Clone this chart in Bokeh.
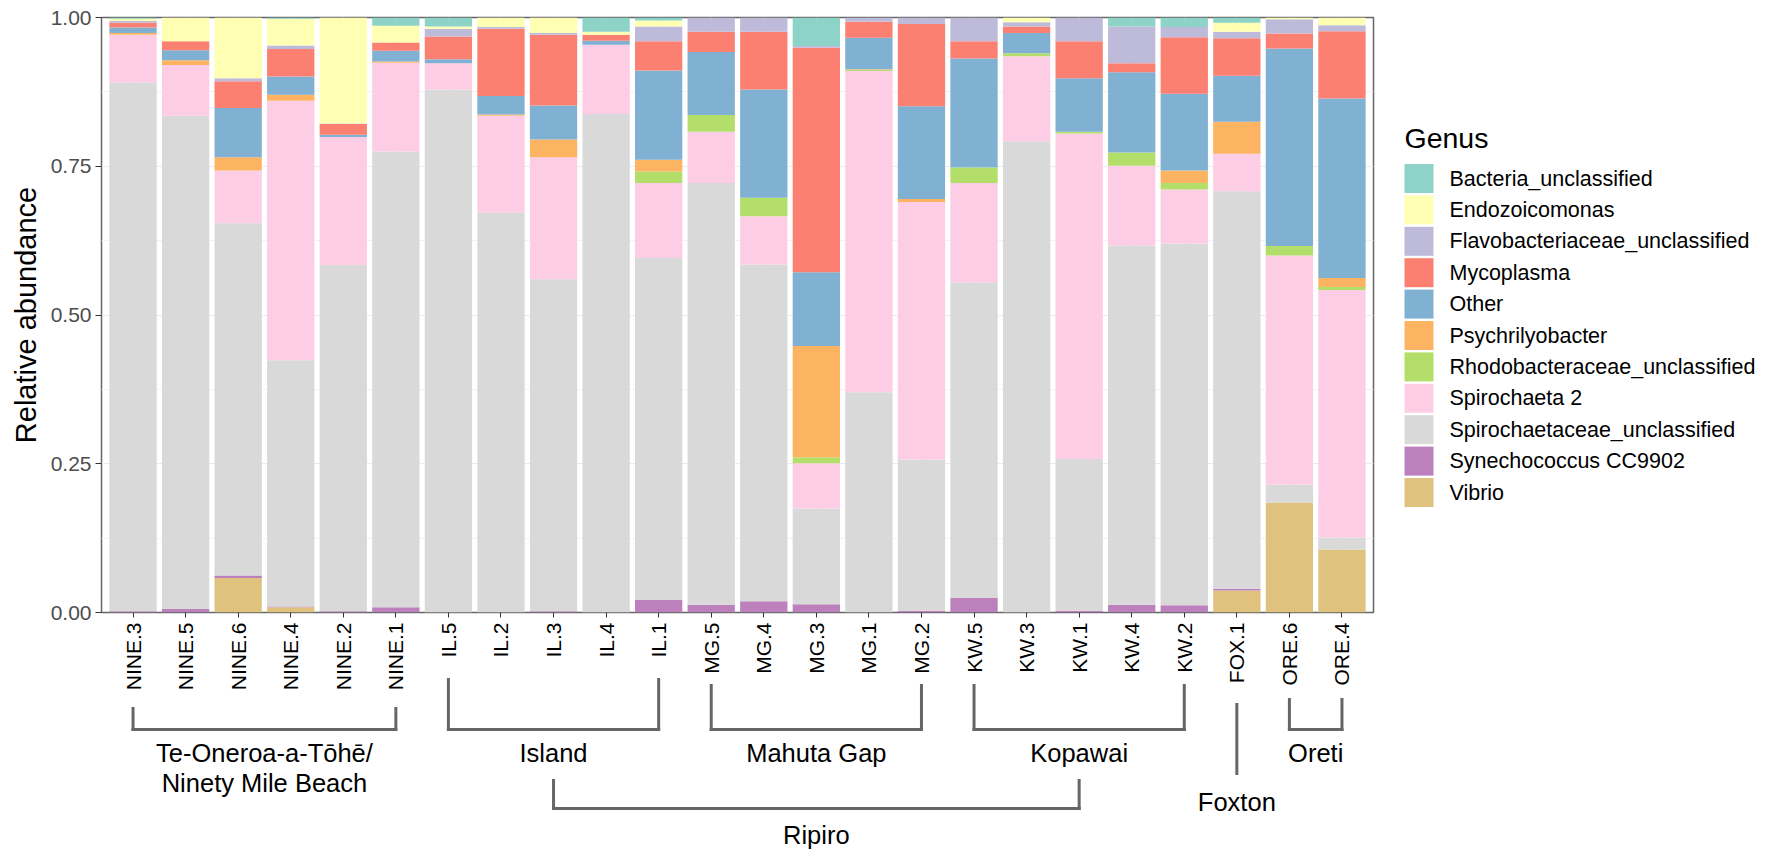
import numpy as np
from bokeh.plotting import figure
from bokeh.models import Range1d, FixedTicker, NumeralTickFormatter, ColumnDataSource
from bokeh.core.properties import value
from bokeh.embed import file_html
from bokeh.resources import INLINE

# ---------------- data ----------------
samples = ["NINE.3", "NINE.5", "NINE.6", "NINE.4", "NINE.2", "NINE.1",
           "IL.5", "IL.2", "IL.3", "IL.4", "IL.1",
           "MG.5", "MG.4", "MG.3", "MG.1", "MG.2",
           "KW.5", "KW.3", "KW.1", "KW.4", "KW.2",
           "FOX.1", "ORE.6", "ORE.4"]

# legend order (top of stack first)
genera = ["Bacteria_unclassified", "Endozoicomonas", "Flavobacteriaceae_unclassified",
          "Mycoplasma", "Other", "Psychrilyobacter", "Rhodobacteraceae_unclassified",
          "Spirochaeta 2", "Spirochaetaceae_unclassified", "Synechococcus CC9902", "Vibrio"]

bacteria_unclassified = [.002, 0, 0, .002, 0, .014, .015, 0, 0, .024, .005, 0, 0, .048, 0, 0, 0, 0, 0, .015, .016, .009, 0, 0]
endozoicomonas = [.004, .040, .102, .045, .178, .028, .004, .016, .026, .005, .010, 0, 0, 0, 0, 0, 0, .008, 0, 0, 0, .015, .003, .013]
flavobacteriaceae_unclassified = [.003, 0, .005, .006, .001, 0, .013, .003, .003, 0, .025, .024, .024, .003, .007, .011, .040, .007, .040, .062, .017, .011, .024, .010]
mycoplasma = [.008, .015, .045, .046, .018, .014, .038, .113, .119, .010, .049, .034, .097, .377, .027, .138, .029, .011, .062, .015, .095, .063, .025, .113]
other = [.009, .017, .083, .031, .004, .018, .007, .031, .057, .007, .150, .106, .182, .124, .053, .156, .183, .034, .090, .135, .129, .077, .332, .302]
psychrilyobacter = [.003, .008, .022, .010, 0, .002, 0, .002, .030, 0, .020, 0, 0, .187, .001, .005, 0, 0, 0, 0, .021, .054, 0, .015]
rhodobacteraceae_unclassified = [0, 0, 0, 0, 0, 0, 0, 0, 0, 0, .019, .028, .031, .010, .002, 0, .026, .005, .003, .022, .011, 0, .016, .005]
spirochaeta_2 = [.080, .085, .089, .436, .215, .149, .044, .163, .205, .116, .126, .086, .081, .076, .540, .433, .167, .143, .547, .134, .091, .063, .385, .416]
spirochaetaceae_unclassified = [.889, .829, .592, .414, .582, .766, .879, .672, .558, .838, .575, .709, .566, .161, .370, .254, .530, .792, .255, .604, .608, .668, .030, .020]
synechococcus_cc9902 = [.002, .006, .004, .001, .002, .009, 0, 0, .002, 0, .021, .013, .019, .014, 0, .003, .025, 0, .003, .013, .012, .003, 0, 0]
vibrio = [0, 0, .058, .009, 0, 0, 0, 0, 0, 0, 0, 0, 0, 0, 0, 0, 0, 0, 0, 0, 0, .037, .185, .106]

colors = ["#8DD3C7", "#FFFFB3", "#BEBADA", "#FB8072", "#80B1D3", "#FDB462",
          "#B3DE69", "#FCCDE5", "#D9D9D9", "#BC80BD", "#DFC27D"]

y_ticks = [0, 0.25, 0.5, 0.75, 1.0]
legend_title = "Genus"

# site groups (bracket labels)
group_labels = [["Te-Oneroa-a-Tōhē/", "Ninety Mile Beach"], ["Island"], ["Mahuta Gap"],
                ["Kopawai"], ["Foxton"], ["Oreti"]]
group_members = [["NINE.3", "NINE.5", "NINE.6", "NINE.4", "NINE.2", "NINE.1"],
                 ["IL.5", "IL.2", "IL.3", "IL.4", "IL.1"],
                 ["MG.5", "MG.4", "MG.3", "MG.1", "MG.2"],
                 ["KW.5", "KW.3", "KW.1", "KW.4", "KW.2"],
                 ["FOX.1"],
                 ["ORE.6", "ORE.4"]]
super_label = "Ripiro"
super_members = ["Island", "Mahuta Gap", "Kopawai"]

# ---------------- layout constants (pixels) ----------------
W, H = 1768, 850
FRAME_L, FRAME_T, FRAME_W, FRAME_H = 101, 17, 1272, 595
X_LO, X_HI = -0.6, len(samples) - 0.4
PX_PER_X = FRAME_W / (X_HI - X_LO)
FONT = value("Liberation Sans")
bracket_top_px = [96, 67, 73, 73, 92, 87]   # px below panel bottom
BRACKET_H_PX = 117
FOX_END_PX = 161
LABEL_PX = 140
LINE2_PX = 170
FOX_LABEL_PX = 189
SUP_TOP_PX, SUP_H_PX, SUP_LABEL_PX = 168, 196, 222
# legend (page pixels)
LEG_SW_X, LEG_SW = 1404, 29
LEG_TXT_X = 1449
LEG_TITLE_Y = 137
LEG_ROW0_Y, LEG_PITCH = 178, 31.4


def ypx(d):
    """pixels below the panel bottom -> data y"""
    return -d / FRAME_H


def dx(px):
    return (px - FRAME_L) / PX_PER_X + X_LO


def dy(py):
    return 1 - (py - FRAME_T) / FRAME_H


# ---------------- figure ----------------
keys = ["vibrio", "synechococcus_cc9902", "spirochaetaceae_unclassified", "spirochaeta_2",
        "rhodobacteraceae_unclassified", "psychrilyobacter", "other", "mycoplasma",
        "flavobacteriaceae_unclassified", "endozoicomonas", "bacteria_unclassified"]
series = [vibrio, synechococcus_cc9902, spirochaetaceae_unclassified, spirochaeta_2,
          rhodobacteraceae_unclassified, psychrilyobacter, other, mycoplasma,
          flavobacteriaceae_unclassified, endozoicomonas, bacteria_unclassified]
idx = np.arange(len(samples))
data = {"x": idx}
for k, s in zip(keys, series):
    data[k] = s
source = ColumnDataSource(data)

p = figure(width=W, height=H,
           x_range=Range1d(X_LO, X_HI), y_range=Range1d(0, 1),
           output_backend="svg", toolbar_location=None,
           min_border_left=FRAME_L, min_border_right=W - FRAME_L - FRAME_W,
           min_border_top=FRAME_T, min_border_bottom=H - FRAME_T - FRAME_H)
p.background_fill_color = "white"
p.border_fill_color = "white"
p.outline_line_color = "#666666"
p.outline_line_width = 1.5

stack_colors = list(reversed(colors))  # bottom -> top
renderers = p.vbar_stack(keys, x="x", width=0.9, source=source,
                         fill_color=stack_colors, line_color=None)

# axes
p.xaxis.ticker = FixedTicker(ticks=list(idx))
p.xaxis.major_label_overrides = {int(i): s for i, s in zip(idx, samples)}
p.xaxis.major_label_orientation = np.pi / 2
p.xaxis.major_label_text_font = "Liberation Sans"
p.xaxis.major_label_text_font_size = "21px"
p.xaxis.major_label_text_color = "black"
p.xaxis.major_tick_out = 5
p.xaxis.major_tick_in = 0
p.xaxis.major_label_standoff = 5
p.xaxis.minor_tick_line_color = None
p.xaxis.axis_line_color = None
p.xaxis.major_tick_line_color = "#333333"

p.yaxis.ticker = FixedTicker(ticks=y_ticks, minor_ticks=[0.125, 0.375, 0.625, 0.875])
p.yaxis.formatter = NumeralTickFormatter(format="0.00")
p.yaxis.major_label_text_font = "Liberation Sans"
p.yaxis.major_label_text_font_size = "21px"
p.yaxis.major_label_text_color = "#4D4D4D"
p.yaxis.major_tick_out = 6
p.yaxis.major_tick_in = 0
p.yaxis.major_label_standoff = 4
p.yaxis.minor_tick_line_color = None
p.yaxis.axis_line_color = None
p.yaxis.major_tick_line_color = "#333333"
p.yaxis.axis_label = "Relative abundance"
p.yaxis.axis_label_text_font = "Liberation Sans"
p.yaxis.axis_label_text_font_size = "29px"
p.yaxis.axis_label_text_font_style = "normal"
p.yaxis.axis_label_text_color = "black"
p.yaxis.axis_label_standoff = 6

p.xgrid.ticker = FixedTicker(ticks=list(idx))
p.xgrid.grid_line_color = "#EBEBEB"
p.ygrid.grid_line_color = "#EBEBEB"
p.ygrid.minor_grid_line_color = "#F2F2F2"

# ---------------- legend (drawn beside the panel) ----------------
n = len(genera)
row_y = [dy(LEG_ROW0_Y + i * LEG_PITCH) for i in range(n)]
leg_src = ColumnDataSource(dict(
    x=[dx(LEG_SW_X + LEG_SW / 2)] * n, y=row_y, color=colors,
    tx=[dx(LEG_TXT_X)] * n, label=genera))
p.rect(x="x", y="y", width=LEG_SW, height=LEG_SW, width_units="screen",
       height_units="screen", fill_color="color", line_color=None,
       source=leg_src, level="overlay")
p.text(x="tx", y="y", text="label", source=leg_src, text_font=FONT,
       text_font_size=value("21.5px"), text_align="left", text_baseline="middle",
       text_color="black", level="overlay")
p.text(x=[dx(LEG_SW_X)], y=[dy(LEG_TITLE_Y)], text=[legend_title], text_font=FONT,
       text_font_size=value("28.5px"), text_align="left", text_baseline="middle",
       text_color="black", level="overlay")

# ---------------- brackets and site labels (below the axis) ----------------
pos = {s: i for i, s in enumerate(samples)}
sx0, sy0, sx1, sy1 = [], [], [], []
tx, ty, tt = [], [], []
centers = {}
for lab, mem, top in zip(group_labels, group_members, bracket_top_px):
    a, b = pos[mem[0]], pos[mem[-1]]
    c = (a + b) / 2
    centers[lab[0]] = c
    if a == b:
        sx0 += [a]; sy0 += [ypx(top)]; sx1 += [a]; sy1 += [ypx(FOX_END_PX)]
        tx.append(c); ty.append(ypx(FOX_LABEL_PX)); tt.append(lab[0])
    else:
        sx0 += [a, b, a]
        sy0 += [ypx(top), ypx(top), ypx(BRACKET_H_PX)]
        sx1 += [a, b, b]
        sy1 += [ypx(BRACKET_H_PX), ypx(BRACKET_H_PX), ypx(BRACKET_H_PX)]
        tx.append(c); ty.append(ypx(LABEL_PX)); tt.append(lab[0])
        if len(lab) > 1:
            tx.append(c); ty.append(ypx(LINE2_PX)); tt.append(lab[1])

sa, sb = centers[super_members[0]], centers[super_members[-1]]
sx0 += [sa, sb, sa]
sy0 += [ypx(SUP_TOP_PX), ypx(SUP_TOP_PX), ypx(SUP_H_PX)]
sx1 += [sa, sb, sb]
sy1 += [ypx(SUP_H_PX), ypx(SUP_H_PX), ypx(SUP_H_PX)]
tx.append((sa + sb) / 2); ty.append(ypx(SUP_LABEL_PX)); tt.append(super_label)

p.segment(x0=sx0, y0=sy0, x1=sx1, y1=sy1, line_color="#666666", line_width=3,
          line_cap="square", level="overlay")
p.text(x=tx, y=ty, text=tt, text_font=FONT, text_font_size=value("25.5px"),
       text_align="center", text_baseline="middle", text_color="black",
       level="overlay")

open("out.html", "w").write(file_html(p, INLINE))
